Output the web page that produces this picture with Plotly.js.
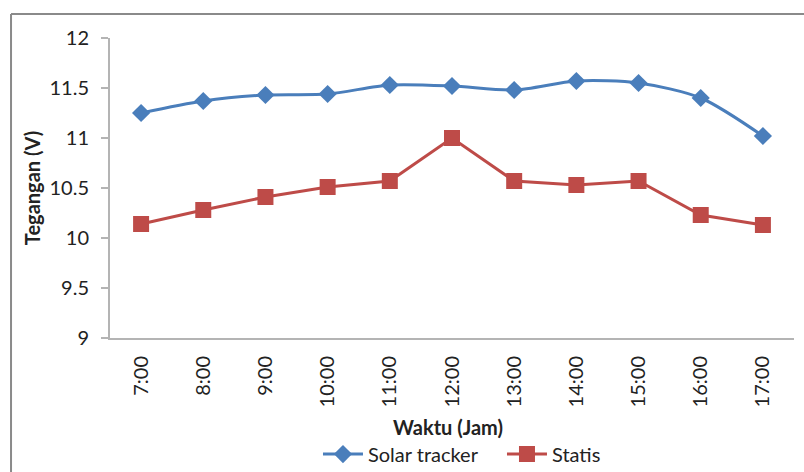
<!DOCTYPE html>
<html>
<head>
<meta charset="utf-8">
<script src="https://cdn.plot.ly/plotly-3.0.1.min.js"></script>
<style>
  html, body { margin: 0; padding: 0; background: #ffffff; }
  #chart { width: 804px; height: 472px; }
</style>
</head>
<body>
<div id="chart"></div>
<script>
// Hourly voltage readings, 07:00 to 17:00
const hours = ["7:00", "8:00", "9:00", "10:00", "11:00", "12:00", "13:00", "14:00", "15:00", "16:00", "17:00"];
const solarTracker = [11.25, 11.37, 11.43, 11.44, 11.53, 11.52, 11.48, 11.57, 11.55, 11.40, 11.02];
const statis = [10.14, 10.28, 10.41, 10.51, 10.57, 11.00, 10.57, 10.53, 10.57, 10.23, 10.13];
const yTicks = [9, 9.5, 10, 10.5, 11, 11.5, 12];

const FONT = "Lato, 'Open Sans', sans-serif";
const BLUE = "#4a7ebb";
const RED = "#be4b48";
const AXIS = "#b4b4b4";
const TEXT = "#222222";

const traces = [
  {
    x: hours, y: solarTracker, name: "Solar tracker",
    type: "scatter", mode: "lines+markers",
    line: { color: BLUE, width: 3, shape: "spline", smoothing: 0.8 },
    marker: { symbol: "diamond", size: 14, color: BLUE }
  },
  {
    x: hours, y: statis, name: "Statis",
    type: "scatter", mode: "lines+markers",
    line: { color: RED, width: 3 },
    marker: { symbol: "square", size: 16, color: RED }
  }
];

const layout = {
  width: 804, height: 472,
  margin: { l: 110, r: 10, t: 38, b: 134, autoexpand: false },
  paper_bgcolor: "#ffffff", plot_bgcolor: "#ffffff",
  font: { family: FONT, size: 20, color: TEXT },
  showlegend: true,
  legend: {
    orientation: "h",
    xref: "container", x: 0.3955, xanchor: "left",
    yref: "container", y: 0.038, yanchor: "middle",
    font: { family: FONT, size: 20, color: TEXT },
    itemwidth: 40, tracegroupgap: 0,
    entrywidth: 129, entrywidthmode: "pixels"
  },
  xaxis: {
    type: "category", range: [-0.5, hours.length - 0.5],
    tickangle: -90, ticks: "", showgrid: false, zeroline: false,
    showline: true, linecolor: AXIS, linewidth: 2,
    ticklabelstandoff: 8, automargin: false,
    tickfont: { family: FONT, size: 20, color: TEXT },
    fixedrange: true
  },
  yaxis: {
    range: [9, 12], tickvals: yTicks, ticktext: yTicks.map(String),
    ticks: "outside", ticklen: 7, tickcolor: AXIS, tickwidth: 2,
    showgrid: false, zeroline: false,
    showline: true, linecolor: AXIS, linewidth: 2,
    ticklabelstandoff: 8, automargin: false,
    tickfont: { family: FONT, size: 20, color: TEXT },
    title: { text: "<b>Tegangan (V)</b>", standoff: 3, font: { family: FONT, size: 20, color: TEXT } },
    fixedrange: true
  },
  annotations: [
    // x-axis title, placed below the rotated hour labels
    { text: "<b>Waktu (Jam)</b>", xref: "paper", yref: "paper", x: 0.494, y: -0.2967,
      xanchor: "center", yanchor: "middle", showarrow: false,
      font: { family: FONT, size: 20, color: TEXT } }
  ],
  shapes: [
    // outer chart frame (top and left edges)
    { type: "line", xref: "paper", yref: "paper", x0: -0.1447, x1: 1.02, y0: 1.08, y1: 1.08,
      line: { color: "#8a8a8a", width: 2 } },
    { type: "line", xref: "paper", yref: "paper", x0: -0.1447, x1: -0.1447, y0: 1.08, y1: -0.45,
      line: { color: "#8a8a8a", width: 2 } }
  ]
};

Plotly.newPlot("chart", traces, layout, { displayModeBar: false, staticPlot: true });
</script>
</body>
</html>
